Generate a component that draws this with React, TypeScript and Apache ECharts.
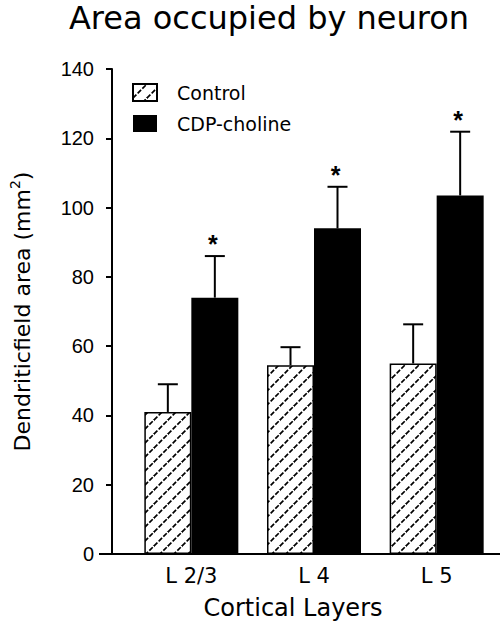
import React, { useEffect, useRef } from 'react';
import * as echarts from 'echarts';

const categories = ['L 2/3', 'L 4', 'L 5'];
const controlValues = [41, 54.5, 55];
const controlErrors = [8, 5.2, 11.3];
const cdpValues = [74, 94, 103.5];
const cdpErrors = [12, 12, 18.4];
const cdpSignificant = [true, true, true];
const seriesNames = ['Control', 'CDP-choline'];
const yMin = 0;
const yMax = 140;
const yInterval = 20;

const BAR_W = 47;
const CAP_W = 20;
const SANS = '"DejaVu Sans", sans-serif';
const ARIAL = '"Liberation Sans", Arial, sans-serif';

function makeHatch(): HTMLCanvasElement {
  const s = 14;
  const c = document.createElement('canvas');
  c.width = s;
  c.height = s;
  const ctx = c.getContext('2d')!;
  ctx.fillStyle = '#fff';
  ctx.fillRect(0, 0, s, s);
  ctx.strokeStyle = '#000';
  ctx.lineWidth = 1.7;
  const diag = Math.sqrt(2) * s;
  ctx.setLineDash([diag / 3 - 1.8, 1.8]);
  ctx.beginPath();
  ctx.moveTo(0, s);
  ctx.lineTo(s, 0);
  ctx.stroke();
  ctx.setLineDash([]);
  ctx.beginPath();
  ctx.moveTo(-3, 3);
  ctx.lineTo(3, -3);
  ctx.moveTo(s - 3, s + 3);
  ctx.lineTo(s + 3, s - 3);
  ctx.stroke();
  return c;
}

function errorSeries(name: string, values: number[], errors: number[], offset: number, stars: boolean[] | null) {
  return {
    type: 'custom',
    name,
    z: 5,
    data: values.map((v, i) => [i, v, errors[i], stars && stars[i] ? 1 : 0]),
    renderItem: (params: any, api: any) => {
      const i = api.value(0);
      const v = api.value(1);
      const e = api.value(2);
      const star = api.value(3);
      const base = api.coord([i, v]);
      const top = api.coord([i, v + e]);
      const x = base[0] + offset;
      const children: any[] = [
        { type: 'line', shape: { x1: x, y1: base[1], x2: x, y2: top[1] }, style: { stroke: '#000', lineWidth: 2 } },
        { type: 'line', shape: { x1: x - CAP_W / 2, y1: top[1], x2: x + CAP_W / 2, y2: top[1] }, style: { stroke: '#000', lineWidth: 2 } },
      ];
      if (star) {
        children.push({
          type: 'text',
          style: { text: '*', x: x - 2, y: top[1] - 12, align: 'center', verticalAlign: 'middle', font: 'bold 25px ' + ARIAL, fill: '#000' },
        });
      }
      return { type: 'group', children };
    },
  };
}

export default function App() {
  const ref = useRef<HTMLDivElement>(null);
  useEffect(() => {
    if (!ref.current) return;
    const chart = echarts.init(ref.current, null, { renderer: 'svg' });
    const hatch = { image: makeHatch(), repeat: 'repeat' };
    chart.setOption({
      animation: false,
      backgroundColor: '#fff',
      grid: { left: 128, right: 5, top: 69, bottom: 74 },
      graphic: [
        {
          type: 'text',
          style: { text: 'Area occupied by neuron', x: 269, y: 18, align: 'center', verticalAlign: 'middle', font: '32px ' + SANS, fill: '#000' },
        },
        {
          type: 'line',
          z: 10,
          shape: { x1: 99, y1: 554, x2: 500, y2: 554 },
          style: { stroke: '#000', lineWidth: 2 },
        },
      ],
      legend: {
        data: seriesNames,
        orient: 'vertical',
        left: 132,
        top: 83,
        padding: 0,
        itemWidth: 24,
        itemHeight: 17,
        itemGap: 12,
        icon: 'rect',
        textStyle: { fontFamily: SANS, fontSize: 19, color: '#000', padding: [0, 0, 0, 15], lineHeight: 17 },
      },
      xAxis: {
        type: 'category',
        data: categories,
        axisLine: { show: false },
        axisTick: { show: false },
        axisLabel: { fontFamily: SANS, fontSize: 21, color: '#000', margin: 11 },
        name: 'Cortical Layers',
        nameLocation: 'middle',
        nameGap: 42,
        nameTextStyle: { fontFamily: SANS, fontSize: 24, color: '#000', padding: [0, 42, 0, 0] },
      },
      yAxis: {
        type: 'value',
        min: yMin,
        max: yMax,
        interval: yInterval,
        offset: 18,
        axisLine: { show: true, lineStyle: { color: '#000', width: 2 } },
        axisTick: { show: true, length: 6, lineStyle: { color: '#000', width: 2 } },
        splitLine: { show: false },
        axisLabel: { fontFamily: ARIAL, fontSize: 20, color: '#000', margin: 18 },
        name: '{a|Dendriticfield area (mm}{s|2}{a|)}',
        nameLocation: 'middle',
        nameGap: 76,
        nameTextStyle: {
          rich: {
            a: { fontFamily: SANS, fontSize: 22, color: '#000', lineHeight: 28 },
            s: { fontFamily: SANS, fontSize: 14, color: '#000', lineHeight: 14, verticalAlign: 'top' },
          },
        },
      },
      series: [
        {
          type: 'bar',
          name: seriesNames[0],
          data: controlValues,
          barWidth: BAR_W,
          barGap: '0%',
          itemStyle: { color: hatch, borderColor: '#000', borderWidth: 1.5 },
        },
        {
          type: 'bar',
          name: seriesNames[1],
          data: cdpValues,
          barWidth: BAR_W,
          barGap: '0%',
          itemStyle: { color: '#000' },
        },
        errorSeries('Control SEM', controlValues, controlErrors, -BAR_W / 2, null),
        errorSeries('CDP-choline SEM', cdpValues, cdpErrors, BAR_W / 2, cdpSignificant),
      ],
    });
    return () => chart.dispose();
  }, []);
  return <div ref={ref} style={{ position: 'absolute', left: 0, top: 0, width: 503, height: 628 }} />;
}
